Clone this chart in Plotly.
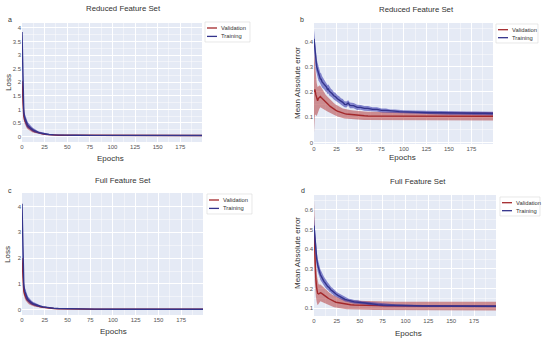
import plotly.graph_objects as go

# ---------------- data ----------------
epochs_loss = [0, 1, 2, 3, 4, 5, 6, 7, 8, 10, 12, 14, 16, 18, 20, 23, 26, 30, 35, 40, 50, 60, 80, 100, 130, 160, 199]

a_train_mean = [3.85, 1.4, 0.9, 0.7, 0.58, 0.5, 0.44, 0.4, 0.36, 0.3, 0.25, 0.21, 0.18, 0.155, 0.135, 0.11, 0.09, 0.074, 0.062, 0.055, 0.049, 0.046, 0.044, 0.043, 0.042, 0.041, 0.04]
a_train_sd = [0.05, 0.22, 0.17, 0.15, 0.14, 0.13, 0.12, 0.11, 0.1, 0.085, 0.072, 0.06, 0.052, 0.045, 0.038, 0.03, 0.024, 0.017, 0.013, 0.01, 0.008, 0.007, 0.006, 0.006, 0.006, 0.006, 0.006]
a_val_mean = [2.05, 1.0, 0.75, 0.6, 0.5, 0.43, 0.38, 0.34, 0.31, 0.26, 0.22, 0.185, 0.16, 0.14, 0.12, 0.098, 0.082, 0.068, 0.057, 0.051, 0.046, 0.044, 0.042, 0.041, 0.04, 0.039, 0.039]
a_val_sd = [0.1, 0.16, 0.14, 0.13, 0.12, 0.11, 0.1, 0.095, 0.09, 0.078, 0.066, 0.056, 0.048, 0.041, 0.034, 0.027, 0.021, 0.015, 0.012, 0.01, 0.008, 0.007, 0.006, 0.006, 0.006, 0.006, 0.006]

c_train_mean = [4.1, 1.5, 0.95, 0.72, 0.59, 0.5, 0.44, 0.39, 0.35, 0.29, 0.24, 0.21, 0.185, 0.16, 0.14, 0.115, 0.094, 0.075, 0.06, 0.05, 0.037, 0.031, 0.027, 0.025, 0.023, 0.022, 0.021]
c_train_sd = [0.05, 0.22, 0.17, 0.15, 0.14, 0.13, 0.12, 0.11, 0.1, 0.085, 0.072, 0.06, 0.052, 0.045, 0.038, 0.03, 0.024, 0.017, 0.013, 0.01, 0.008, 0.007, 0.006, 0.006, 0.006, 0.006, 0.006]
c_val_mean = [2.0, 1.0, 0.72, 0.58, 0.48, 0.42, 0.37, 0.33, 0.3, 0.25, 0.21, 0.18, 0.16, 0.14, 0.12, 0.1, 0.083, 0.066, 0.053, 0.044, 0.034, 0.028, 0.025, 0.023, 0.021, 0.02, 0.02]
c_val_sd = [0.1, 0.16, 0.14, 0.13, 0.12, 0.11, 0.1, 0.095, 0.09, 0.078, 0.066, 0.056, 0.048, 0.041, 0.034, 0.027, 0.021, 0.015, 0.012, 0.01, 0.008, 0.007, 0.006, 0.006, 0.006, 0.006, 0.006]

epochs_mae = [0, 1, 2, 3, 4, 5, 6, 7, 8, 9, 10, 11, 12, 13, 14, 15, 16, 17, 18, 19, 20,
              22, 24, 26, 28, 30, 32, 34, 36, 38, 40, 44, 48, 52, 56, 60,
              65, 70, 75, 80, 85, 90, 95, 100, 110, 120, 130, 140, 150, 160, 170, 180, 190, 199]

b_train_mean = [0.41, 0.36, 0.32, 0.30, 0.287, 0.27, 0.264, 0.252, 0.25, 0.24, 0.236, 0.23, 0.228, 0.22, 0.219, 0.21, 0.212, 0.203, 0.201, 0.196, 0.194,
                0.185, 0.181, 0.173, 0.169, 0.162, 0.159, 0.151, 0.15, 0.156, 0.147, 0.146, 0.139, 0.139, 0.135, 0.135,
                0.131, 0.131, 0.127, 0.127, 0.124, 0.124, 0.122, 0.121, 0.12, 0.119, 0.118, 0.118, 0.117, 0.117, 0.116, 0.116, 0.116, 0.115]
b_train_sd = [0.035, 0.034, 0.032, 0.03, 0.028, 0.026, 0.025, 0.024, 0.023, 0.022, 0.021, 0.02, 0.02, 0.019, 0.019, 0.018, 0.018, 0.017, 0.017, 0.016, 0.016,
              0.015, 0.015, 0.014, 0.014, 0.013, 0.013, 0.012, 0.012, 0.011, 0.011, 0.01, 0.01, 0.009, 0.009, 0.009,
              0.008, 0.008, 0.008, 0.008, 0.007, 0.007, 0.007, 0.007, 0.007, 0.007, 0.007, 0.007, 0.007, 0.007, 0.007, 0.007, 0.007, 0.007]
b_val_mean = [0.2, 0.21, 0.19, 0.17, 0.165, 0.175, 0.18, 0.182, 0.178, 0.174, 0.17, 0.166, 0.162, 0.158, 0.155, 0.152, 0.149, 0.146, 0.143, 0.14, 0.137,
              0.133, 0.128, 0.124, 0.121, 0.118, 0.116, 0.114, 0.113, 0.112, 0.111, 0.109, 0.108, 0.107, 0.106, 0.105,
              0.105, 0.105, 0.104, 0.104, 0.104, 0.104, 0.104, 0.104, 0.104, 0.104, 0.104, 0.104, 0.104, 0.104, 0.104, 0.104, 0.104, 0.104]
b_val_sd = [0.16, 0.1, 0.08, 0.065, 0.055, 0.05, 0.046, 0.043, 0.04, 0.038, 0.036, 0.034, 0.032, 0.031, 0.03, 0.029, 0.028, 0.027, 0.026, 0.025, 0.024,
            0.023, 0.022, 0.021, 0.02, 0.02, 0.019, 0.019, 0.018, 0.018, 0.018, 0.018, 0.017, 0.017, 0.017, 0.017,
            0.017, 0.017, 0.017, 0.017, 0.017, 0.017, 0.017, 0.017, 0.017, 0.017, 0.017, 0.017, 0.017, 0.017, 0.017, 0.017, 0.017, 0.017]

d_train_mean = [0.52, 0.45, 0.39, 0.35, 0.32, 0.3, 0.287, 0.27, 0.262, 0.25, 0.243, 0.235, 0.23, 0.221, 0.217, 0.21, 0.207, 0.2, 0.198, 0.19, 0.188,
                0.178, 0.172, 0.165, 0.16, 0.152, 0.15, 0.145, 0.142, 0.138, 0.137, 0.132, 0.131, 0.127, 0.126, 0.124,
                0.12, 0.118, 0.116, 0.115, 0.114, 0.113, 0.113, 0.112, 0.112, 0.111, 0.111, 0.111, 0.11, 0.11, 0.11, 0.11, 0.11, 0.11]
d_train_sd = [0.05, 0.045, 0.04, 0.036, 0.033, 0.03, 0.028, 0.027, 0.026, 0.025, 0.024, 0.023, 0.022, 0.021, 0.021, 0.02, 0.019, 0.018, 0.017, 0.016, 0.016,
              0.015, 0.014, 0.013, 0.013, 0.012, 0.011, 0.011, 0.01, 0.01, 0.01, 0.009, 0.009, 0.008, 0.008, 0.008,
              0.007, 0.007, 0.006, 0.006, 0.006, 0.005, 0.005, 0.005, 0.005, 0.005, 0.005, 0.005, 0.005, 0.005, 0.005, 0.005, 0.005, 0.005]
d_val_mean = [0.5, 0.35, 0.25, 0.2, 0.175, 0.172, 0.175, 0.178, 0.176, 0.172, 0.168, 0.165, 0.162, 0.158, 0.155, 0.152, 0.149, 0.146, 0.143, 0.14, 0.138,
              0.134, 0.13, 0.128, 0.126, 0.124, 0.122, 0.12, 0.119, 0.118, 0.117, 0.116, 0.115, 0.115, 0.114, 0.114,
              0.113, 0.113, 0.112, 0.112, 0.112, 0.111, 0.111, 0.111, 0.111, 0.111, 0.11, 0.11, 0.11, 0.11, 0.11, 0.11, 0.11, 0.11]
d_val_sd = [0.15, 0.12, 0.09, 0.07, 0.06, 0.05, 0.046, 0.043, 0.041, 0.04, 0.039, 0.038, 0.037, 0.036, 0.035, 0.034, 0.033, 0.032, 0.031, 0.03, 0.03,
            0.029, 0.028, 0.027, 0.026, 0.025, 0.025, 0.024, 0.024, 0.023, 0.023, 0.023, 0.022, 0.022, 0.022, 0.022,
            0.022, 0.022, 0.022, 0.022, 0.022, 0.022, 0.022, 0.022, 0.022, 0.022, 0.022, 0.022, 0.022, 0.022, 0.022, 0.022, 0.022, 0.022]

panel_titles = ["Reduced Feature Set", "Reduced Feature Set", "Full Feature Set", "Full Feature Set"]
panel_letters = ["a", "b", "c", "d"]
y_titles = ["Loss", "Mean Absolute error", "Loss", "Mean Absolute error"]
x_title = "Epochs"
series_names = ["Validation", "Training"]

# ---------------- style ----------------
FONT = "Liberation Sans, Arial, sans-serif"
VAL_LINE = "#a3282b"
VAL_BAND = "rgba(178,45,45,0.5)"
TR_LINE = "#33338c"
TR_BAND = "rgba(45,45,170,0.55)"
TXT = "#333333"
LINE_COLORS = [VAL_LINE, TR_LINE]

panels = [
    dict(ep=epochs_loss, tm=a_train_mean, ts=a_train_sd, vm=a_val_mean, vs=a_val_sd),
    dict(ep=epochs_mae, tm=b_train_mean, ts=b_train_sd, vm=b_val_mean, vs=b_val_sd),
    dict(ep=epochs_loss, tm=c_train_mean, ts=c_train_sd, vm=c_val_mean, vs=c_val_sd),
    dict(ep=epochs_mae, tm=d_train_mean, ts=d_train_sd, vm=d_val_mean, vs=d_val_sd),
]

W, H = 550, 339
# plot areas in pixels: (left, right, top, bottom)
boxes = [(22, 202, 23, 142), (314, 493, 23, 144), (22, 203, 193, 315), (314, 496, 195, 316)]
yranges = [[-0.2, 4.18], [-0.006, 0.473], [-0.2, 4.52], [0.06, 0.676]]
ydticks = [0.5, 0.1, 1, 0.1]
# text anchor positions (pixels)
title_pos = [(123, 8), (416, 9), (123, 180), (418, 181)]
letter_pos = [(10, 19), (302, 20), (10, 191), (303, 191)]
xtitle_pos = [(110, 158), (402, 157), (113, 331), (408, 333)]
ytitle_pos = [(8, 83), (297, 83), (8, 255), (297, 253)]
# legend boxes: (left, top, right, bottom)
legend_box = [(205, 22, 250, 42), (496, 24, 538, 43), (207, 194, 252, 214), (500, 197, 540, 216)]

fig = go.Figure()

for i, p in enumerate(panels):
    ax = "" if i == 0 else str(i + 1)
    xa, ya = "x" + ax, "y" + ax
    ep = p["ep"]
    for name, m, s, lc, bc in [("Validation", p["vm"], p["vs"], VAL_LINE, VAL_BAND),
                               ("Training", p["tm"], p["ts"], TR_LINE, TR_BAND)]:
        hi = [a + b for a, b in zip(m, s)]
        lo = [a - b for a, b in zip(m, s)]
        fig.add_trace(go.Scatter(x=ep + ep[::-1], y=hi + lo[::-1], fill="toself",
                                 fillcolor=bc, line=dict(width=0), mode="lines",
                                 hoverinfo="skip", showlegend=False, xaxis=xa, yaxis=ya))
        fig.add_trace(go.Scatter(x=ep, y=m, mode="lines", name=name,
                                 line=dict(color=lc, width=1.4), showlegend=False,
                                 xaxis=xa, yaxis=ya))

layout = dict(
    width=W, height=H, margin=dict(l=0, r=0, t=0, b=0, autoexpand=False),
    paper_bgcolor="white", plot_bgcolor="#E5EAF5",
    font=dict(family=FONT, size=6, color=TXT),
    showlegend=False,
    annotations=[], shapes=[],
)


def px(x):
    return x / W


def py(y):
    return 1 - y / H


for i in range(4):
    ax = "" if i == 0 else str(i + 1)
    l, r, t, b = boxes[i]
    layout["xaxis" + ax] = dict(
        domain=[px(l), px(r)], anchor="y" + ax, range=[0, 199], automargin=False,
        tickvals=[0, 25, 50, 75, 100, 125, 150, 175], showgrid=True, gridcolor="white",
        gridwidth=1, zeroline=False, showline=False, ticks="",
        tickfont=dict(size=6, color="#555555"),
        minor=dict(showgrid=True, gridcolor="rgba(255,255,255,0.45)", gridwidth=0.5, dtick=12.5),
    )
    layout["yaxis" + ax] = dict(
        domain=[py(b), py(t)], anchor="x" + ax, range=yranges[i], automargin=False,
        dtick=ydticks[i], tick0=0, showgrid=True, gridcolor="white", gridwidth=1,
        zeroline=False, showline=False, ticks="",
        tickfont=dict(size=6, color="#555555"),
        minor=dict(showgrid=True, gridcolor="rgba(255,255,255,0.45)", gridwidth=0.5, dtick=ydticks[i] / 2),
    )
    ann = layout["annotations"]
    tx, ty = title_pos[i]
    ann.append(dict(text=panel_titles[i], x=px(tx), y=py(ty), xref="paper", yref="paper",
                    showarrow=False, font=dict(size=7.8, color=TXT), xanchor="center", yanchor="middle"))
    lx, ly = letter_pos[i]
    ann.append(dict(text=panel_letters[i], x=px(lx), y=py(ly), xref="paper", yref="paper",
                    showarrow=False, font=dict(size=7, color=TXT), xanchor="center", yanchor="middle"))
    ex, ey = xtitle_pos[i]
    ann.append(dict(text=x_title, x=px(ex), y=py(ey), xref="paper", yref="paper",
                    showarrow=False, font=dict(size=8, color=TXT), xanchor="center", yanchor="middle"))
    yx, yy = ytitle_pos[i]
    ann.append(dict(text=y_titles[i], x=px(yx), y=py(yy), xref="paper", yref="paper", textangle=-90,
                    showarrow=False, font=dict(size=8, color=TXT), xanchor="center", yanchor="middle"))
    # legend drawn as a small framed key
    L, T, R, B = legend_box[i]
    layout["shapes"].append(dict(type="rect", xref="paper", yref="paper",
                                 x0=px(L), x1=px(R), y0=py(B), y1=py(T),
                                 line=dict(color="#d8d8d8", width=0.6), fillcolor="white", layer="above"))
    rows = [T + (B - T) * 0.3, T + (B - T) * 0.72]
    for k, name in enumerate(series_names):
        yk = rows[k]
        layout["shapes"].append(dict(type="line", xref="paper", yref="paper",
                                     x0=px(L + 2), x1=px(L + 12), y0=py(yk), y1=py(yk),
                                     line=dict(color=LINE_COLORS[k], width=1.3), layer="above"))
        ann.append(dict(text=name, x=px(L + 14), y=py(yk), xref="paper", yref="paper",
                        showarrow=False, font=dict(size=5.8, color=TXT), xanchor="left", yanchor="middle"))

fig.update_layout(**layout)
fig.write_html("out.html", config={"displayModeBar": False},
               post_script="document.body.style.margin='0';document.body.style.overflow='hidden';")
